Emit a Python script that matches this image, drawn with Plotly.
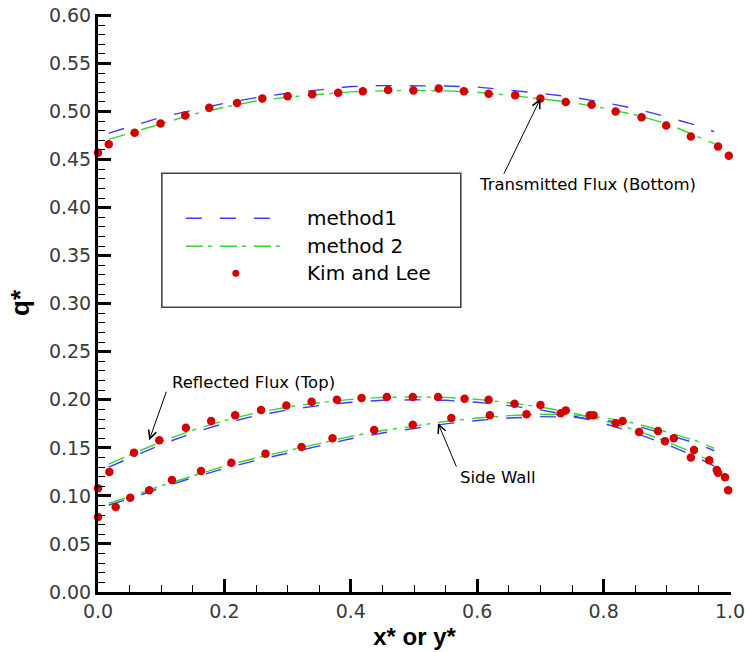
import plotly.graph_objects as go

# ---- Kim and Lee reference data (symbols) ----
trans_x = [0.0, 0.017, 0.058, 0.099, 0.138, 0.176, 0.220, 0.260, 0.300, 0.339, 0.380,
           0.419, 0.459, 0.499, 0.539, 0.579, 0.618, 0.660, 0.700, 0.740, 0.781, 0.819,
           0.860, 0.899, 0.938, 0.981, 0.998]
trans_y = [0.457, 0.466, 0.478, 0.4875, 0.496, 0.504, 0.509, 0.5135, 0.516, 0.518, 0.5195,
           0.521, 0.5225, 0.522, 0.524, 0.521, 0.5185, 0.517, 0.5135, 0.510, 0.507, 0.500,
           0.494, 0.4855, 0.474, 0.4635, 0.454]

refl_x = [0.0, 0.018, 0.057, 0.097, 0.139, 0.179, 0.217, 0.258, 0.298, 0.338, 0.378,
          0.417, 0.457, 0.498, 0.538, 0.580, 0.618, 0.659, 0.700, 0.740, 0.784, 0.819,
          0.856, 0.897, 0.943, 0.979, 0.997]
refl_y = [0.108, 0.125, 0.145, 0.158, 0.171, 0.178, 0.184, 0.1895, 0.194, 0.198, 0.200,
          0.202, 0.203, 0.203, 0.203, 0.201, 0.200, 0.196, 0.1945, 0.189, 0.184, 0.1755,
          0.1665, 0.157, 0.1477, 0.127, 0.106]

side_x = [0.0, 0.028, 0.051, 0.081, 0.117, 0.163, 0.211, 0.265, 0.322, 0.371, 0.437,
          0.498, 0.559, 0.620, 0.678, 0.732, 0.778, 0.830, 0.886, 0.911, 0.938, 0.967,
          0.981, 0.992]
side_y = [0.078, 0.0885, 0.098, 0.106, 0.1165, 0.126, 0.1345, 0.144, 0.151, 0.160, 0.1685,
          0.174, 0.181, 0.184, 0.185, 0.186, 0.184, 0.178, 0.1675, 0.160, 0.140, 0.137,
          0.124, 0.1195]

# ---- computed profiles ----
calc_x = [0.017, 0.05, 0.10, 0.15, 0.20, 0.25, 0.30, 0.35, 0.40, 0.45, 0.50,
          0.55, 0.60, 0.65, 0.70, 0.75, 0.80, 0.85, 0.90, 0.95, 0.975]

trans_m1 = [0.4775, 0.484, 0.494, 0.5015, 0.5085, 0.5145, 0.519, 0.5225, 0.526, 0.527, 0.527,
            0.5265, 0.5255, 0.5225, 0.519, 0.515, 0.5095, 0.503, 0.4945, 0.485, 0.479]
trans_m2 = [0.471, 0.4775, 0.4875, 0.497, 0.5045, 0.511, 0.515, 0.518, 0.5205, 0.5215, 0.522,
            0.5215, 0.520, 0.517, 0.5135, 0.5095, 0.5035, 0.4965, 0.4875, 0.474, 0.4665]

refl_m2 = [0.133, 0.1425, 0.1565, 0.1685, 0.1785, 0.1865, 0.1925, 0.197, 0.2005, 0.2025, 0.203,
           0.2025, 0.2005, 0.197, 0.1925, 0.1865, 0.1785, 0.1685, 0.1565, 0.1425, 0.134]
refl_m1 = [0.130, 0.1395, 0.1535, 0.1655, 0.1755, 0.1835, 0.1895, 0.194, 0.1975, 0.1995, 0.200,
           0.1995, 0.1975, 0.194, 0.1895, 0.1835, 0.1755, 0.1655, 0.1535, 0.1395, 0.131]

side_m2 = [0.0925, 0.099, 0.1105, 0.121, 0.131, 0.1395, 0.147, 0.1545, 0.162, 0.168, 0.173,
           0.1775, 0.181, 0.1835, 0.185, 0.1845, 0.1815, 0.1755, 0.1665, 0.1565, 0.1495]
side_m1 = [0.0905, 0.097, 0.1085, 0.119, 0.1285, 0.137, 0.1445, 0.152, 0.1595, 0.1655, 0.1705,
           0.175, 0.1785, 0.181, 0.1825, 0.182, 0.179, 0.173, 0.164, 0.154, 0.147]

x_ticks = [0.0, 0.2, 0.4, 0.6, 0.8, 1.0]
y_ticks = [0.00, 0.05, 0.10, 0.15, 0.20, 0.25, 0.30, 0.35, 0.40, 0.45, 0.50, 0.55, 0.60]

BLUE = "#3c3cff"
GREEN = "#2fd62f"
RED = "#d40000"
DASH1 = "16px,18px"
DASH2 = "17px,5px,4px,8px"

fig = go.Figure()

for ys in (trans_m1, refl_m1, side_m1):
    fig.add_trace(go.Scatter(x=calc_x, y=ys, mode="lines", name="method1",
                             line=dict(color=BLUE, width=1.4, dash=DASH1),
                             showlegend=False, hoverinfo="skip"))
for ys in (trans_m2, refl_m2, side_m2):
    fig.add_trace(go.Scatter(x=calc_x, y=ys, mode="lines", name="method 2",
                             line=dict(color=GREEN, width=1.4, dash=DASH2),
                             showlegend=False, hoverinfo="skip"))
for xs, ys in ((trans_x, trans_y), (refl_x, refl_y), (side_x, side_y)):
    fig.add_trace(go.Scatter(x=xs, y=ys, mode="markers", name="Kim and Lee",
                             marker=dict(color=RED, size=8.5, line=dict(width=0)),
                             cliponaxis=False, showlegend=False))

TXT = dict(family="DejaVu Sans", color="black")

# legend box drawn in data space
leg_l, leg_r, leg_t, leg_b = 0.101, 0.574, 0.4357, 0.2963
fig.add_shape(type="rect", x0=leg_l, x1=leg_r, y0=leg_b, y1=leg_t,
              line=dict(color="#444444", width=1.6), fillcolor="white", layer="below")
rows = [0.389, 0.3598, 0.3317]
fig.add_shape(type="line", x0=0.139, x1=0.275, y0=rows[0], y1=rows[0],
              line=dict(color=BLUE, width=1.4, dash=DASH1))
fig.add_shape(type="line", x0=0.139, x1=0.291, y0=rows[1], y1=rows[1],
              line=dict(color=GREEN, width=1.4, dash=DASH2))
fig.add_trace(go.Scatter(x=[0.218], y=[rows[2]], mode="markers",
                         marker=dict(color=RED, size=7), showlegend=False, hoverinfo="skip"))
for label, yy in zip(["method1", "method 2", "Kim and Lee"], rows):
    fig.add_annotation(x=0.3275, y=yy, text=label, showarrow=False, xanchor="left",
                       yanchor="middle", font=dict(size=20, **TXT))

# labelled arrows
arrows = [
    dict(tip=(0.700, 0.5135), tail=(0.641, 0.4336), text="Transmitted Flux (Bottom)",
         pos=(0.5997, 0.4237)),
    dict(tip=(0.081, 0.158), tail=(0.109, 0.210), text="Reflected Flux (Top)",
         pos=(0.114, 0.2178)),
    dict(tip=(0.538, 0.1757), tail=(0.568, 0.129), text="Side Wall",
         pos=(0.570, 0.1196)),
]
for a in arrows:
    fig.add_annotation(x=a["tip"][0], y=a["tip"][1], ax=a["tail"][0], ay=a["tail"][1],
                       axref="x", ayref="y", text="", showarrow=True, arrowhead=5,
                       arrowsize=1.6, arrowwidth=1, arrowcolor="black", standoff=0)
    fig.add_annotation(x=a["pos"][0], y=a["pos"][1], text=a["text"], showarrow=False,
                       xanchor="left", yanchor="middle", font=dict(size=16.5, **TXT))

axis_common = dict(
    showline=True, linecolor="black", linewidth=3, mirror=False,
    showgrid=False, zeroline=False, automargin=False,
    ticks="inside", ticklen=13, tickwidth=3, tickcolor="black",
    ticklabeloverflow="allow",
    tickfont=dict(family="DejaVu Sans", size=19, color="#3a3a3a"),
)

fig.update_xaxes(range=[0, 1.0015], tickmode="array", tickvals=x_ticks,
                 ticktext=[f"{v:.1f}" for v in x_ticks],
                 minor=dict(dtick=0.05, tick0=0, ticks="inside", ticklen=7, tickwidth=1,
                            tickcolor="black"),
                 title=dict(text="<b>x* or y*</b>", standoff=8,
                            font=dict(family="Liberation Sans", size=24, color="black")),
                 **axis_common)
fig.update_yaxes(range=[0, 0.6015], tickmode="array", tickvals=y_ticks,
                 ticktext=[f"{v:.2f}" for v in y_ticks],
                 minor=dict(dtick=0.01, tick0=0, ticks="inside", ticklen=7, tickwidth=1,
                            tickcolor="black"),
                 title=dict(text="<b>q*</b>", standoff=12,
                            font=dict(family="Liberation Sans", size=26, color="black")),
                 **axis_common)

fig.update_layout(
    width=745, height=652,
    margin=dict(l=98, r=14, t=14, b=60),
    plot_bgcolor="white", paper_bgcolor="white",
    showlegend=False,
)

fig.write_html("out.html")
